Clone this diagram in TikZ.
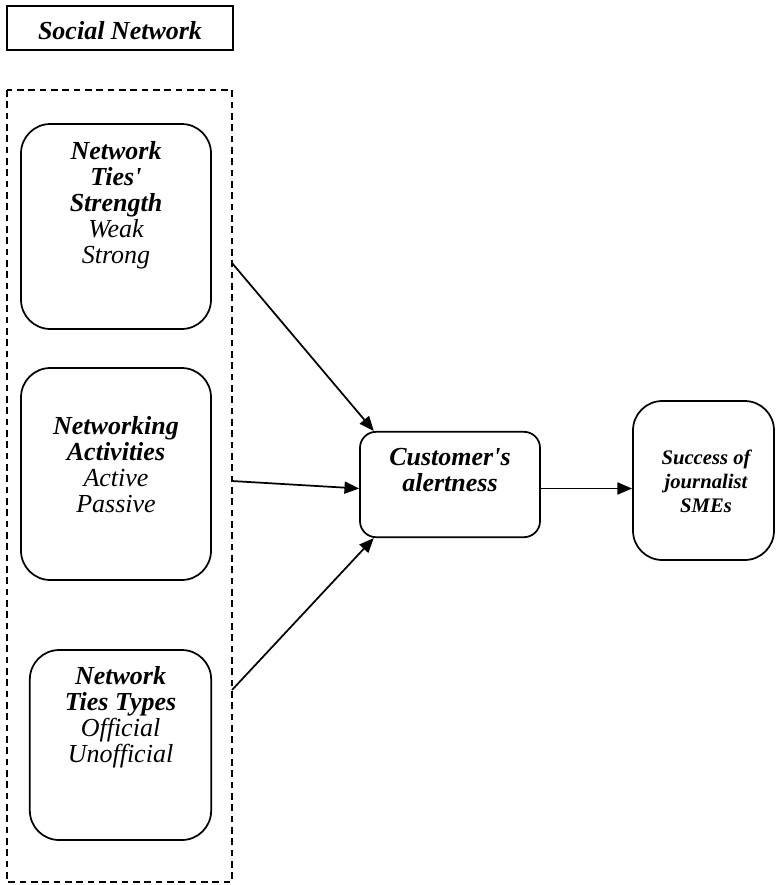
\documentclass[tikz,border=0pt]{standalone}
\usepackage{fontspec}
\setmainfont{Liberation Serif}
\usetikzlibrary{arrows.meta}

\begin{document}
\begin{tikzpicture}[x=0.75pt, y=-0.75pt, line width=1.3pt,
    main/.style = {draw, rounded corners=22pt, inner sep=0pt},
    txt/.style = {align=center, inner sep=0pt, font=\fontsize{19.5}{19.5}\selectfont\itshape},
    small/.style = {align=center, inner sep=0pt, font=\fontsize{15.5}{18}\selectfont\itshape\bfseries},
    arr/.style = {-{Triangle[length=11pt, width=9pt]}}]
    \useasboundingbox (0,0) rectangle (776,885);
    % title and frame
    \node[draw, line width=1.1pt, minimum width=169.5pt, minimum height=33pt, inner sep=0pt] (title) at (120,28) {};
    \node[txt, font=\fontsize{19.5}{19.5}\selectfont\itshape\bfseries] (title text) at (120,31) {Social Network};
    \draw[line width=1.1pt, dash pattern=on 5pt off 3.5pt] (7,90) rectangle (232,882);
    % left boxes
    \node[main, minimum width=142.5pt, minimum height=153.75pt] (strength) at (116,226.5) {};
    \node[txt] (strength text) at (116,205) {\bfseries Network\\ \bfseries Ties\textquotesingle\\ \bfseries Strength\\ Weak\\ Strong};
    \node[main, minimum width=142.5pt, minimum height=159pt] (activities) at (116,474) {};
    \node[txt] (activities text) at (116,464.5) {\bfseries Networking\\ \bfseries Activities\\ Active\\ Passive};
    \node[main, minimum width=136pt, minimum height=142.5pt] (types) at (120.5,745) {};
    \node[txt] (types text) at (120.5,717.5) {\bfseries Network\\ \bfseries Ties Types\\ Official\\ Unofficial};
    % middle and right boxes
    \node[main, rounded corners=12pt, minimum width=135pt, minimum height=79pt] (alert) at (450,484.5) {};
    \node[txt] (alert text) at (450,470.5) {\bfseries Customer\textquotesingle s\\ \bfseries alertness};
    \node[main, minimum width=105.75pt, minimum height=119.25pt] (success) at (703.5,480.5) {};
    \node[small] (success text) at (706,481) {Success of\\ journalist\\ SMEs};
    % connectors
    \coordinate (s1) at (232,263);
    \coordinate (s2) at (232,481);
    \coordinate (s3) at (232,690);
    \draw[arr] (s1) -- ([xshift=11pt]alert.north west);
    \draw[arr] (s2) -- ([yshift=-3pt]alert.west);
    \draw[arr] (s3) -- ([xshift=11pt]alert.south west);
    \draw[arr] ([yshift=-3pt]alert.east) -- ([yshift=-3pt]alert.east -| success.west);
\end{tikzpicture}
\end{document}
